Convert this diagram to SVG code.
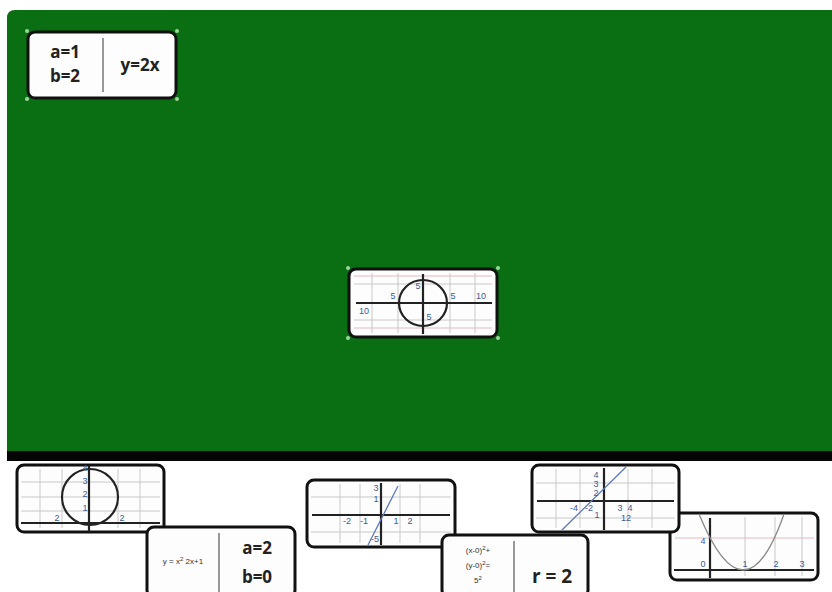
<svg xmlns="http://www.w3.org/2000/svg" width="832" height="592" viewBox="0 0 832 592">
<style>
.card{fill:#fdfdfd;stroke:#111;stroke-width:3}
.grid{stroke:#c8c8c8;stroke-width:1;fill:none}
.pink{stroke:#e3b9c0;stroke-width:1}
.axis{stroke:#222;stroke-width:2.2;fill:none}
.div{stroke:#555;stroke-width:1.2}
.big{font-family:"Open Sans","DejaVu Sans",sans-serif;font-weight:bold;font-size:17px;fill:#222;text-anchor:middle}
.sm{font-family:"Liberation Sans",Arial,sans-serif;font-size:8px;fill:#333;text-anchor:middle}
.lbl{font-family:"Liberation Sans",Arial,sans-serif;font-size:9px;fill:#3a5a9a;text-anchor:middle}
.blue{stroke:#5a7ac0;stroke-width:1.3;fill:none}
.h{fill:#9ed69e}
</style>
<rect x="0" y="0" width="832" height="592" fill="#ffffff"/>
<path d="M7 18 Q7 10 15 10 L832 10 L832 453 L7 453 Z" fill="#0a6f13"/>
<rect x="7" y="451" width="825" height="10" fill="#050505"/>

<g id="card-top-left">
<rect class="card" x="28" y="32" width="148" height="66" rx="7"/>
<line class="div" x1="103" y1="38" x2="103" y2="92"/>
<text class="big" x="65" y="58">a=1</text>
<text class="big" x="65" y="82">b=2</text>
<text class="big" x="140" y="71">y=2x</text>
<circle class="h" cx="27" cy="31" r="2"/><circle class="h" cx="177" cy="31" r="2"/><circle class="h" cx="27" cy="99" r="2"/><circle class="h" cx="177" cy="99" r="2"/>
</g>

<g id="card-center">
<rect class="card" x="349" y="269" width="148" height="68" rx="7"/>
<g class="grid"><line x1="372" y1="273" x2="372" y2="333"/><line x1="398" y1="273" x2="398" y2="333"/><line x1="450" y1="273" x2="450" y2="333"/><line x1="475" y1="273" x2="475" y2="333"/><line x1="354" y1="284" x2="492" y2="284"/><line x1="354" y1="320" x2="492" y2="320"/></g>
<line class="pink" x1="354" y1="276" x2="492" y2="276"/><line class="pink" x1="354" y1="328" x2="492" y2="328"/>
<line class="axis" x1="356" y1="303" x2="492" y2="303"/>
<line class="axis" x1="423" y1="274" x2="423" y2="334"/>
<ellipse class="axis" cx="423" cy="303" rx="24" ry="23"/>
<text class="lbl" x="393" y="299">5</text><text class="lbl" x="418" y="289">5</text><text class="lbl" x="453" y="299">5</text><text class="lbl" x="481" y="299">10</text><text class="lbl" x="364" y="314">10</text><text class="lbl" x="429" y="320">5</text>
<circle class="h" cx="348" cy="268" r="2"/><circle class="h" cx="498" cy="268" r="2"/><circle class="h" cx="348" cy="338" r="2"/><circle class="h" cx="498" cy="338" r="2"/>
</g>

<g id="card-circle-small">
<rect class="card" x="17" y="465" width="147" height="67" rx="7"/>
<g class="grid"><line x1="40" y1="469" x2="40" y2="528"/><line x1="62" y1="469" x2="62" y2="528"/><line x1="118" y1="469" x2="118" y2="528"/><line x1="140" y1="469" x2="140" y2="528"/><line x1="21" y1="482" x2="160" y2="482"/><line x1="21" y1="497" x2="160" y2="497"/><line x1="21" y1="511" x2="160" y2="511"/></g>
<line class="axis" x1="21" y1="523" x2="160" y2="523"/>
<line class="axis" x1="89" y1="466" x2="89" y2="532"/>
<circle class="axis" cx="90" cy="497" r="28"/>
<text class="lbl" x="85" y="471">4</text><text class="lbl" x="85" y="484">3</text><text class="lbl" x="85" y="497">2</text><text class="lbl" x="85" y="511">1</text><text class="lbl" x="57" y="521">2</text><text class="lbl" x="122" y="521">2</text>
</g>

<g id="card-formula-ab">
<rect class="card" x="147" y="527" width="148" height="70" rx="7"/>
<line class="div" x1="219" y1="533" x2="219" y2="592"/>
<text class="sm" x="183" y="564">y = x<tspan dy="-3" font-size="6">2</tspan><tspan dy="3"> 2x+1</tspan></text>
<text class="big" x="257" y="554">a=2</text>
<text class="big" x="257" y="583">b=0</text>
</g>

<g id="card-line-1">
<rect class="card" x="307" y="480" width="148" height="67" rx="7"/>
<g class="grid"><line x1="340" y1="484" x2="340" y2="543"/><line x1="360" y1="484" x2="360" y2="543"/><line x1="400" y1="484" x2="400" y2="543"/><line x1="420" y1="484" x2="420" y2="543"/><line x1="311" y1="497" x2="451" y2="497"/><line x1="311" y1="532" x2="451" y2="532"/></g>
<line class="axis" x1="312" y1="515" x2="450" y2="515"/>
<line class="axis" x1="381" y1="483" x2="381" y2="545"/>
<line class="blue" x1="368" y1="545" x2="398" y2="486"/>
<text class="lbl" x="376" y="491">3</text><text class="lbl" x="376" y="502">1</text><text class="lbl" x="347" y="524">-2</text><text class="lbl" x="364" y="524">-1</text><text class="lbl" x="396" y="524">1</text><text class="lbl" x="410" y="524">2</text><text class="lbl" x="375" y="542">-5</text>
</g>

<g id="card-formula-r">
<rect class="card" x="442" y="535" width="146" height="62" rx="7"/>
<line class="div" x1="514" y1="541" x2="514" y2="592"/>
<text class="sm" x="478" y="553">(x-0)<tspan dy="-3" font-size="6">2</tspan><tspan dy="3">+</tspan></text>
<text class="sm" x="478" y="568">(y-0)<tspan dy="-3" font-size="6">2</tspan><tspan dy="3">=</tspan></text>
<text class="sm" x="478" y="583">5<tspan dy="-3" font-size="6">2</tspan></text>
<text class="big" x="552" y="583" style="font-size:19px">r = 2</text>
</g>

<g id="card-parabola">
<rect class="card" x="670" y="513" width="148" height="67" rx="7"/>
<g class="grid"><line x1="745" y1="517" x2="745" y2="576"/><line x1="775" y1="517" x2="775" y2="576"/><line x1="802" y1="517" x2="802" y2="576"/></g>
<line class="pink" x1="675" y1="538" x2="814" y2="538"/>
<line class="axis" x1="674" y1="570" x2="814" y2="570"/>
<line class="axis" x1="710" y1="518" x2="710" y2="578"/>
<path d="M699 514 Q745 626 784 514" fill="none" stroke="#888" stroke-width="1.3"/>
<text class="lbl" x="703" y="544">4</text><text class="lbl" x="703" y="567">0</text><text class="lbl" x="745" y="567">1</text><text class="lbl" x="776" y="567">2</text><text class="lbl" x="802" y="567">3</text>
</g>

<g id="card-line-2">
<rect class="card" x="532" y="465" width="147" height="67" rx="7"/>
<g class="grid"><line x1="556" y1="469" x2="556" y2="528"/><line x1="580" y1="469" x2="580" y2="528"/><line x1="628" y1="469" x2="628" y2="528"/><line x1="652" y1="469" x2="652" y2="528"/><line x1="536" y1="483" x2="675" y2="483"/><line x1="536" y1="518" x2="675" y2="518"/></g>
<line class="axis" x1="537" y1="501" x2="674" y2="501"/>
<line class="axis" x1="604" y1="468" x2="604" y2="530"/>
<line class="blue" x1="562" y1="530" x2="626" y2="467"/>
<text class="lbl" x="596" y="478">4</text><text class="lbl" x="596" y="487">3</text><text class="lbl" x="596" y="496">2</text><text class="lbl" x="574" y="511">-4</text><text class="lbl" x="589" y="511">-2</text><text class="lbl" x="597" y="518">1</text><text class="lbl" x="620" y="511">3</text><text class="lbl" x="630" y="511">4</text><text class="lbl" x="626" y="521">12</text>
</g>
</svg>
